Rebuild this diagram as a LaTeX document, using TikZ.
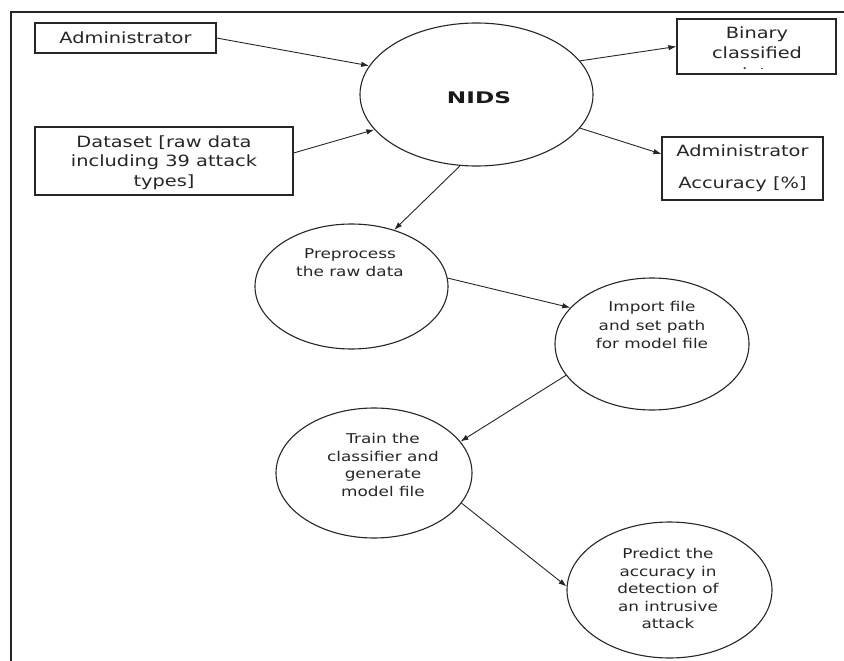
\documentclass[tikz,border=0pt]{standalone}
\usepackage{fontspec}
\usetikzlibrary{shapes.geometric,arrows.meta}
\newfontfamily\dvfont{DejaVu Sans}[FakeStretch=1.25]
\newfontfamily\nidsfont{DejaVu Sans}[FakeStretch=1.45]
\begin{document}
\begin{tikzpicture}[x=1pt,y=-1pt,
  boxnode/.style={draw=black!85,line width=1.1pt,rectangle,inner sep=0pt},
  procnode/.style={draw=black!85,line width=1.1pt,ellipse,inner sep=0pt},
  boxtext/.style={font=\dvfont\fontsize{15.5}{19.5}\selectfont,align=center,inner sep=0pt,text=black!85},
  proctext/.style={font=\dvfont\fontsize{13.5}{18.5}\selectfont,align=center,inner sep=0pt,text=black!85},
  proctextb/.style={font=\dvfont\fontsize{13.5}{17.5}\selectfont,align=center,inner sep=0pt,text=black!85},
  arr/.style={draw=black!85,line width=0.9pt,-{Latex[length=8pt,width=5.5pt]}}]
\useasboundingbox (0,0) rectangle (844,661);
% frame
\coordinate (fbl) at (11,661);
\coordinate (ftl) at (11,12);
\coordinate (ftr) at (844,12);
\draw[line width=1.2pt,black!85] (fbl) -- (ftl) -- (ftr);

% boxes
\node[boxnode,minimum width=181pt,minimum height=30pt] (admin) at (125.5,38) {};
\node[boxtext] (admintext) at (125.5,38) {Administrator};

\node[boxnode,minimum width=258pt,minimum height=68pt] (dataset) at (164,161) {};
\node[boxtext] (datasettext) at (164,162.6) {Dataset [raw data\\including 39 attack\\types]};

\node[boxnode,minimum width=159pt,minimum height=55pt] (binary) at (756.5,46.5) {};
\node[boxtext,font=\dvfont\fontsize{15.5}{20}\selectfont] (binarytext) at (757,42.5) {Binary\\classified};
\begin{scope}
\clip (678,20) rectangle (835,69);
\node[boxtext,anchor=base] (binarydata) at (757,79.5) {data};
\end{scope}

\node[boxnode,minimum width=161pt,minimum height=63pt] (acc) at (742.5,168.5) {};
\node[boxtext] (acctext) at (742.5,168) {Administrator\\[12.5pt]Accuracy [\%]};

% ellipses
\node[procnode,minimum width=233pt,minimum height=143pt] (nids) at (476.5,94.5) {};
\node[font=\nidsfont\bfseries\fontsize{16}{18}\selectfont,inner sep=0pt,text=black!90] (nidstext) at (479,97.5) {NIDS};

\node[procnode,minimum width=193pt,minimum height=125pt] (pre) at (351.5,286.5) {};
\node[proctext] (pretext) at (350,262.8) {Preprocess\\the raw data};

\node[procnode,minimum width=194pt,minimum height=132pt] (imp) at (652,344) {};
\node[proctext] (imptext) at (652,325) {Import file\\and set path\\for model file};

\node[procnode,minimum width=196pt,minimum height=130pt] (train) at (374,473) {};
\node[proctextb] (traintext) at (383,464.8) {Train the\\classifier and\\generate\\model file};

\node[procnode,minimum width=205pt,minimum height=136pt] (pred) at (669.5,590) {};
\node[proctextb] (predtext) at (668,588.5) {Predict the\\accuracy in\\detection of\\an intrusive\\attack};

% connectors
\draw[arr] (admin.east) -- (nids.165);
\draw[arr] ([yshift=8pt]dataset.east) -- (nids.199);
\draw[arr] (nids.18) -- (binary.west);
\draw[arr] (nids.342.4) -- ([yshift=14.5pt]acc.west);
\draw[arr] (nids.257) -- (pre.53.7);
\draw[arr] (pre.5.6) -- (imp.156.8);
\draw[arr] (imp.200) -- (train.20.6);
\draw[arr] (train.341.8) -- (pred.178.3);
\end{tikzpicture}
\end{document}
